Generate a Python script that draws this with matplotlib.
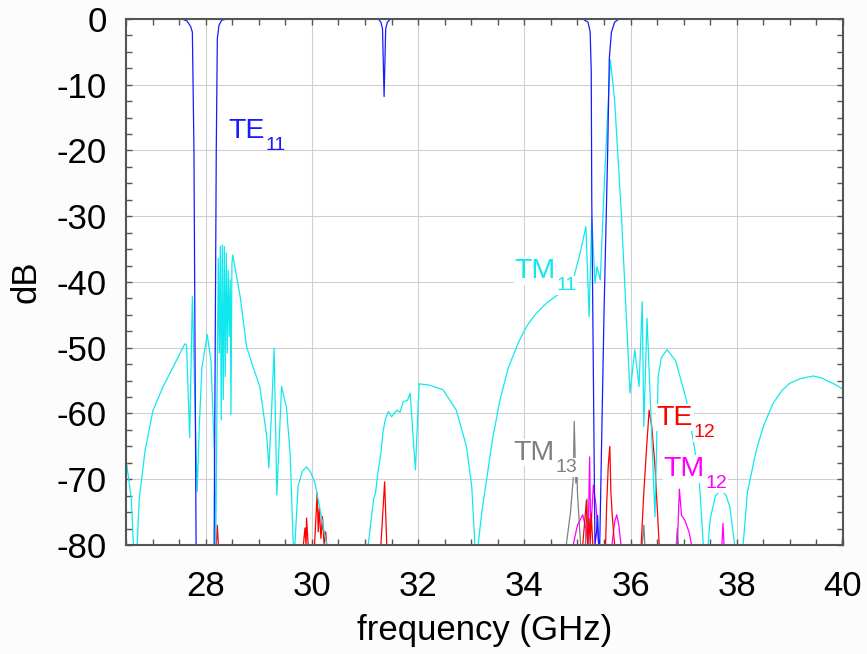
import numpy as np
import matplotlib
matplotlib.use("Agg")
import matplotlib.pyplot as plt
from matplotlib.ticker import MultipleLocator

plt.rcParams['font.family'] = ['Liberation Sans', 'DejaVu Sans']
plt.rcParams['axes.unicode_minus'] = False

# TE11 (blue)
te11_f = [26.5, 27.55, 27.65, 27.72, 27.75, 27.78, 27.82, 28.16, 28.2, 28.22, 28.25, 28.3, 28.4,
          31.25, 31.3, 31.33, 31.36, 31.39, 31.42, 31.48,
          35.1, 35.2, 35.24, 35.26, 35.27, 35.33, 35.36, 35.38, 35.40, 35.42,
          35.50, 35.57, 35.60, 35.64, 35.7, 35.78, 40.0]
te11_db = [0, 0, -0.3, -1.2, -2, -20, -80, -80, -20, -3, -1, -0.2, 0,
           0, -0.5, -1.5, -11.8, -1.5, -0.5, 0,
           0, -0.5, -2, -8, -27.5, -80, -78, -75.5, -80, -80,
           -45, -20, -6, -2, -0.5, 0, 0]

# TM11 (cyan)
tm11_f = [26.5, 26.6, 26.64, 26.71, 26.75, 26.86, 27.01, 27.2, 27.39, 27.52, 27.61, 27.64,
          27.70, 27.75, 27.84, 27.88, 27.93, 28.03, 28.10, 28.16, 28.19,
          28.238, 28.257, 28.276, 28.294, 28.313, 28.332, 28.351, 28.370, 28.388, 28.407,
          28.426, 28.445, 28.464, 28.476, 28.495, 28.51,
          28.65, 28.77, 28.90, 29.02, 29.15, 29.19, 29.24, 29.29, 29.34, 29.43, 29.52, 29.59, 29.65,
          29.68, 29.74, 29.82, 29.90, 29.98, 30.06, 30.18, 30.28,
          31.06, 31.16, 31.2, 31.25, 31.3, 31.34, 31.38, 31.44, 31.5, 31.60, 31.66, 31.72, 31.8, 31.85,
          31.95, 32.02, 32.22, 32.47, 32.72, 32.91, 33.01, 33.07,
          33.13, 33.2, 33.29, 33.4, 33.54, 33.7, 33.9, 34.04, 34.2, 34.42, 34.67, 34.92,
          35.05, 35.16, 35.22, 35.27, 35.33, 35.37, 35.43, 35.52, 35.62, 35.70, 35.83, 35.99,
          36.08, 36.16, 36.22, 36.25, 36.31, 36.46, 36.52, 36.58, 36.69, 36.85, 37.05, 37.21, 37.3, 37.37,
          37.46, 37.5, 37.6, 37.71, 37.8, 37.87, 37.96,
          38.12, 38.2, 38.37, 38.5, 38.68, 38.85, 39.0, 39.2, 39.44, 39.6, 39.75, 39.9, 40.0]
tm11_db = [-66.8, -73, -80, -80, -73, -65.6, -59.5, -55.9, -52.9, -50.8, -49.4, -49.6,
           -63.7, -42.2, -71.9, -62, -53, -48, -52, -65, -80,
           -36.4, -50.8, -34.6, -61, -34.4, -57.9, -34.6, -54.4, -35.6, -50.8,
           -38.2, -48.3, -39.7, -60.2, -37.2, -35.9,
           -42.2, -49.8, -53.1, -55.9, -63.5, -68.3, -59.9, -50.1, -72.4, -55.9, -59, -66, -80,
           -80, -71.1, -68.8, -68.1, -69, -70.6, -75.7, -80,
           -80, -73.2, -72, -68.6, -66, -62.8, -61, -59.7, -60.5, -59.5, -59.8, -58.2, -58, -56.9,
           -68.6, -55.5, -55.7, -56.4, -59.5, -65, -71.1, -80,
           -80, -75, -70, -64, -58, -53, -49, -46.8, -45, -43.2, -41.7, -39.7,
           -35.6, -31.6, -45.3, -30.1, -40.2, -37.7, -39.7, -22.5, -6.2, -12.3, -30.1, -56.9,
           -50.3, -55.9, -43, -62, -45.5, -75.7, -54.4, -51.5, -50.3, -52, -57.9, -65.5, -71, -80,
           -80, -76, -72.5, -71.6, -72.5, -74.2, -80,
           -80, -72, -65.5, -62, -58.5, -56.5, -55.4, -54.7, -54.3, -54.6, -55.2, -55.8, -56.3]

# TE12 (red)
te12_f = [26.5, 28.2, 28.22, 28.24, 29.84, 29.87, 29.89, 29.9, 29.93, 30.05, 30.1, 30.12, 30.14,
          30.17, 30.2, 30.23, 30.26, 30.28, 31.3, 31.37, 31.41, 35.1, 35.17, 35.19, 35.22, 35.24,
          35.26, 35.29, 35.53, 35.55, 35.58, 35.61, 35.63, 35.66, 35.7, 36.2, 36.25, 36.3, 36.35,
          36.4, 36.46, 36.5, 36.54, 40.0]
te12_db = [-80, -80, -77, -80, -80, -77.4, -80, -75.9, -80, -80, -72.1, -78, -74.4,
           -79, -75.7, -80, -78, -80, -80, -70.4, -80, -80, -73.2, -80, -76, -80,
           -75.2, -80, -80, -74, -68, -65, -72, -76, -80, -80, -72, -65.5, -59.5,
           -62, -68, -74, -80, -80]

# TM12 (magenta)
tm12_f = [34.92, 35.0, 35.1, 35.17, 35.2, 35.23, 35.25, 35.3, 35.35, 35.4, 35.65, 35.7, 35.74,
          35.78, 35.82, 36.88, 36.92, 36.96, 37.02, 37.1, 37.15, 37.72, 37.74, 37.76]
tm12_db = [-80, -77, -75.4, -78, -80, -66.6, -78, -70.9, -74, -80, -80, -76.5, -75.4,
           -77, -80, -80, -71.5, -75.5, -76.2, -78, -80, -80, -76.7, -80]

# TM13 (gray)
tm13_f = [34.79, 34.87, 34.92, 34.94, 34.97, 34.99, 35.0, 35.03, 35.06, 35.15, 35.18, 35.2,
          36.22, 36.25, 36.27, 36.86, 36.88, 36.9]
tm13_db = [-80, -75, -70, -61.2, -70.6, -68, -72, -76, -80, -80, -73, -80,
           -80, -77, -80, -80, -77.5, -80]

green_f = [39.98, 40.0]
green_db = [-80, -78]

# mode labels: name, subscript, position, colour
labels = [('TE', '11', 28.42, -18.1, '#1a1aff'),
          ('TM', '11', 33.82, -39.4, '#11e8ee'),
          ('TE', '12', 36.49, -61.7, '#ff0000'),
          ('TM', '12', 36.62, -69.5, '#ff00ff'),
          ('TM', '13', 33.79, -67.0, '#808080')]

fig = plt.figure(figsize=(8.67, 6.54), dpi=100, facecolor='#fbfcfb')
ax = fig.add_axes([0.1453, 0.1667, 0.8270, 0.8043])
ax.set_facecolor('white')

ax.plot(tm13_f, tm13_db, color='#808080', lw=0.9)
ax.plot(tm12_f, tm12_db, color='#ff00ff', lw=0.9)
ax.plot(te12_f, te12_db, color='#ff0000', lw=0.9)
ax.plot(tm11_f, tm11_db, color='#11e8ee', lw=0.9)
ax.plot(te11_f, te11_db, color='#1a1aff', lw=0.9)
ax.plot(green_f, green_db, color='#00cc00', lw=0.9)

ax.set_xlim(26.5, 40)
ax.set_ylim(-80, 0)
ax.xaxis.set_major_locator(MultipleLocator(2))
ax.xaxis.set_minor_locator(MultipleLocator(0.5))
ax.yaxis.set_major_locator(MultipleLocator(10))
ax.yaxis.set_minor_locator(MultipleLocator(2.5))
ax.grid(True, which='major', color='#d0d0d0', lw=0.8)
ax.tick_params(which='both', direction='in', top=True, right=True, length=4,
               color='#555555', width=1)
ax.tick_params(axis='x', labelsize=25, pad=18)
ax.tick_params(axis='y', labelsize=25, pad=14)
for s in ax.spines.values():
    s.set_color('#555555')
    s.set_linewidth(1.5)

ax.set_xlabel('frequency (GHz)', fontsize=25, labelpad=8)
ax.set_ylabel('dB', fontsize=25, labelpad=10)

box = dict(facecolor='white', edgecolor='none', pad=0.5)
for name, sub, x, y, c in labels:
    b = None if (name, sub) == ('TE', '11') else box
    t = ax.text(x, y, name, color=c, fontsize=20.5, va='baseline', bbox=b)
    ax.annotate(sub, xy=(1, 0), xycoords=t, xytext=(0.5, -4.5), textcoords='offset points',
                color=c, fontsize=14, va='baseline', ha='left', bbox=b)

fig.savefig('out.png', dpi=100, facecolor=fig.get_facecolor())
